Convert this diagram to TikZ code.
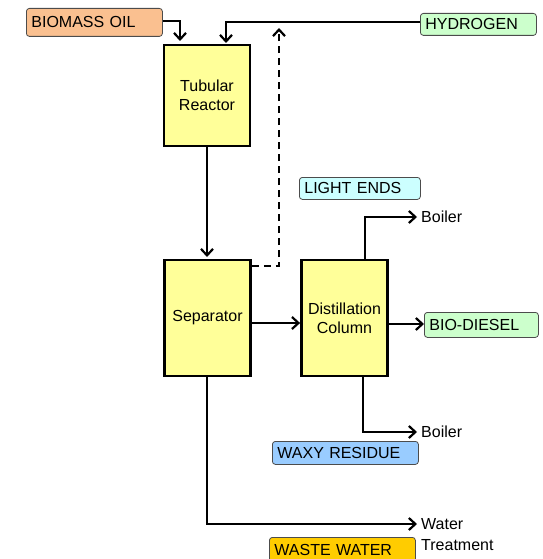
\documentclass[tikz,border=0pt]{standalone}
\usepackage{fontspec}
\setmainfont{Liberation Sans}
\usetikzlibrary{arrows.meta}
\definecolor{blockyellow}{HTML}{FFFF99}
\definecolor{oilorange}{HTML}{FAC090}
\definecolor{lightgreen}{HTML}{CCFFCC}
\definecolor{lightcyan}{HTML}{CCFFFF}
\definecolor{lightblue}{HTML}{99CCFF}
\definecolor{wastegold}{HTML}{FFCC00}
\tikzset{
  block/.style={draw=black, line width=2.8pt, fill=blockyellow, minimum width=86pt, align=center, font=\fontsize{16}{19}\selectfont, inner sep=0pt},
  tag/.style={draw=black!70, line width=0.8pt, rounded corners=3pt, anchor=north west, text width=#1, inner xsep=5pt, inner ysep=0pt, minimum height=23pt, align=left, font=\fontsize{16}{19}\selectfont},
  tip/.style={-{Straight Barb[length=6.5pt,width=12pt,line width=2.2pt]}},
  flow/.style={line width=2.2pt, tip},
  plain/.style={font=\fontsize{16}{19}\selectfont, anchor=west, inner xsep=4pt, inner ysep=0pt, align=left},
}
\begin{document}
\begin{tikzpicture}[x=1pt,y=-1pt]
\useasboundingbox (0,0) rectangle (542,559);
% process blocks
\node[block, minimum height=101pt] (reactor) at (207,95.5) {Tubular\\Reactor};
\node[block, minimum height=116pt] (sep) at (207.5,318) {Separator};
\node[block, minimum height=116pt] (dist) at (344.5,318) {Distillation\\Column};
% labels
\node[tag=126pt, fill=oilorange, minimum height=28pt] (oil) at (26,8) {BIOMASS OIL};
\node[tag=106pt, fill=lightgreen, minimum height=22pt] (h2) at (420,13) {HYDROGEN};
\node[tag=111pt, fill=lightcyan, minimum height=22pt] (light) at (299,177) {LIGHT ENDS};
\node[tag=104pt, fill=lightgreen, minimum height=25pt] (diesel) at (424,312) {BIO-DIESEL};
\node[tag=136pt, fill=lightblue, minimum height=23pt] (waxy) at (272,441) {WAXY RESIDUE};
\node[tag=136pt, fill=wastegold, minimum height=26pt] (waste) at (269,537) {WASTE WATER};
% destination texts
\node[plain] (boiler1) at (417,217) {Boiler};
\node[plain] (boiler2) at (417,432) {Boiler};
\node[plain] (water) at (417,524) {Water};
\node[plain] (treat) at (417,545) {Treatment};
% coordinates
\coordinate (oilturn) at (180,21);
\coordinate (h2turn) at (226,22);
\coordinate (dashtop) at (279,28);
\coordinate (dashturn) at (279,266);
\coordinate (topturn) at (365,217);
\coordinate (botturn) at (363,432);
\coordinate (wturn) at (207,524);
% connectors
\draw[flow] (oil.east |- oilturn) -- (oilturn) -- (180,41);
\draw[flow] (h2.west |- h2turn) -- (h2turn) -- (226,43);
\draw[flow] (reactor.south) -- (207,257);
\draw[line width=2.2pt, dash pattern=on 7pt off 5pt, tip] (sep.east |- dashturn) -- (dashturn) -- (dashtop);
\draw[flow] (sep.east |- 0,323) -- (dist.west |- 0,323);
\draw[flow] (365,259) -- (topturn) -- (boiler1.west);
\draw[flow] (dist.east |- 0,324) -- (diesel.west |- 0,324);
\draw[flow] (363,377) -- (botturn) -- (boiler2.west);
\draw[flow] (207,377) -- (wturn) -- (water.west);
\end{tikzpicture}
\end{document}
